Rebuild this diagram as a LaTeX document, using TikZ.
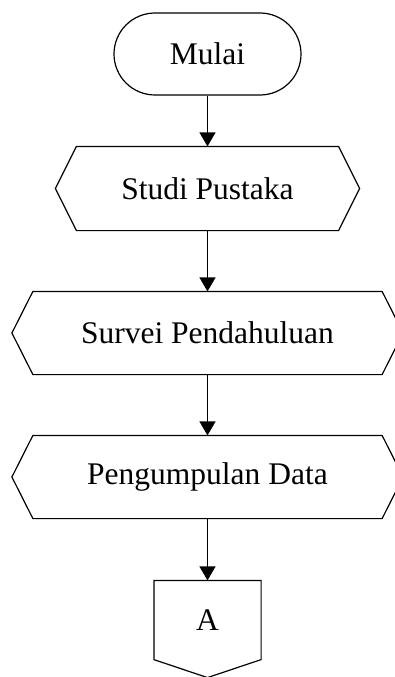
\documentclass[tikz,border=0pt]{standalone}
\usepackage{fontspec}
\setmainfont{Liberation Serif}
\usetikzlibrary{arrows.meta,calc}
\begin{document}
\begin{tikzpicture}[x=1pt,y=-1pt,line width=1.2pt,
  box/.style={minimum height=82pt,inner sep=0pt,font=\fontsize{31.5}{38}\selectfont},
  arr/.style={-{Triangle[width=16pt,length=14pt]},line width=1.2pt}]
\useasboundingbox (0,0) rectangle (394,677);
\node[box,draw,rounded corners=41pt,minimum width=187pt] (mulai) at (207.5,54) {Mulai};
\node[box,minimum width=261pt,minimum height=83pt] (studi) at (207.5,188.5) {Studi Pustaka};
\node[box,minimum width=348pt] (survei) at (207.5,333) {Survei Pendahuluan};
\node[box,minimum width=348pt] (data) at (207.5,477) {Pengumpulan Data};
\node[box,minimum width=106pt,minimum height=78pt] (a) at (207.5,620) {A};
\foreach \n in {studi,survei,data}
  \draw (\n.north west) -- (\n.north east) -- ($(\n.east)+(21,0)$) -- (\n.south east)
        -- (\n.south west) -- ($(\n.west)+(-21,0)$) -- cycle;
\draw (a.south west) -- (a.north west) -- (a.north east) -- (a.south east)
      -- ($(a.south)+(0,18)$) -- cycle;
\draw[arr] (mulai.south) -- (studi.north);
\draw[arr] (studi.south) -- (survei.north);
\draw[arr] (survei.south) -- (data.north);
\draw[arr] (data.south) -- (a.north);
\end{tikzpicture}
\end{document}
